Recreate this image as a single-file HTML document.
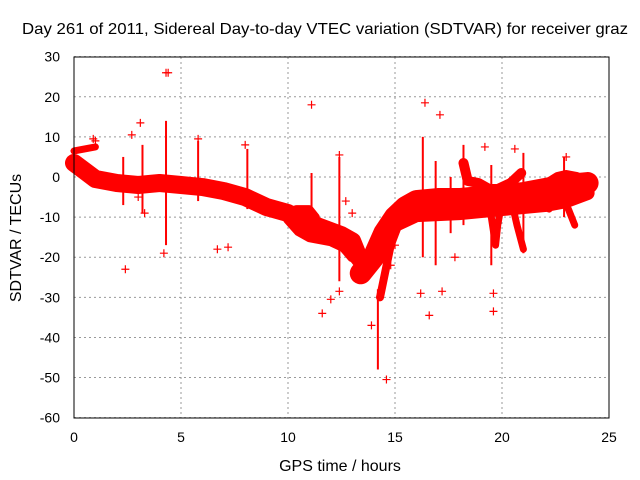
<!DOCTYPE html>
<html><head><meta charset="utf-8"><style>
body{margin:0;background:#fff;}
svg{display:block;font-family:"Liberation Sans",sans-serif;}
</style></head><body>
<svg id="chart" width="640" height="480">
<text x="325" y="34" font-size="16" textLength="606" lengthAdjust="spacingAndGlyphs" text-anchor="middle">Day 261 of 2011, Sidereal Day-to-day VTEC variation (SDTVAR) for receiver graz</text>
<text x="340" y="471" font-size="16" text-anchor="middle">GPS time / hours</text>
<text transform="translate(21,238) rotate(-90)" font-size="16" text-anchor="middle">SDTVAR / TECUs</text>
<g id="grid"></g><g id="ticks"></g><g id="bands"></g><g id="spikes"></g><g id="pts"></g>
<rect x="74" y="57" width="535" height="361" fill="none" stroke="#000" stroke-width="1"/>
</svg>
<script>
const xTicks=[0,5,10,15,20,25];
const yTicks=[30,20,10,0,-10,-20,-30,-40,-50,-60];
const bandMain=[[0,3.5],[0.5,1.5],[1,-0.5],[2,-1.5],[3,-2],[4,-1.5],[5,-2],[6,-2.5],[7,-3.5],[8,-5],[9,-7.5],[10,-9],[10.5,-10.5],[11.5,-12.5],[12.5,-14.5],[13,-16],[13.3,-20],[13.6,-22]];
const bandHook=[[0,6.5],[0.5,7],[1,7.5]];
const bandUpper=[[9.8,-9],[10.4,-8],[11,-8],[11.3,-10]];
const bandLower=[[10,-10.5],[10.5,-13.5],[11,-15],[12,-16],[12.6,-17.5],[13,-20]];
const bandRise=[[13.4,-24],[14,-20],[14.5,-14],[15,-10],[15.5,-7.5],[16,-6],[17,-5.5],[18,-5.5],[19,-5],[20,-4.5],[21,-4],[22,-3],[23,-2],[24,-1.5]];
const bandFloor=[[15,-12],[16,-9.5],[18,-9],[20,-8],[22,-7],[23,-6],[24,-4]];
const bandSecond=[[14.3,-30],[14.8,-17],[15.3,-10],[16,-8.5],[17,-7.5],[18,-8]];
const bandArc=[[18.2,3.5],[18.4,-1],[18.9,-1.5],[19.4,-3],[19.8,-3],[20.4,-1.5],[20.9,1]];
const bandLoop=[[21,-4],[22,-2],[22.6,0],[23,0.5],[23.5,0],[23.9,-2]];
const bandDips=[[[19.1,-5],[19.5,-10],[19.7,-17],[19.8,-12],[20,-6]],[[20.4,-5],[20.7,-12],[21,-18]],[[22.7,-5],[23.1,-8],[23.4,-12]],[[21.8,-4],[22.2,-8]]];
const spikeT=[2.3,3.2,4.3,5.8,8.1,11.1,12.4,14.2,16.3,16.9,17.6,18.2,19.5,21,22.9];
const spikeLo=[-7,-9,-17,-6,-8,-15,-26,-48,-20,-22,-14,-12,-22,-19,-10];
const spikeHi=[5,8,14,9,7,1,5,-28,10,4,0,8,3,6,5];
const outT=[4.4,4.3,2.4,6.7,7.2,4.2,11.1,11.6,12,12.4,14.6,16.4,17.1,16.6,17.2,19.6,19.6,16.2,17.8,19.2,20.6,23,3.1,0.9,1,2.7,5.8,8,12.4,13,12.7,15,14.8,3,3.3,13.9];
const outV=[26,26,-23,-18,-17.5,-19,18,-34,-30.5,-28.5,-50.5,18.5,15.5,-34.5,-28.5,-33.5,-29,-29,-20,7.5,7,5,13.5,9.5,9,10.5,9.5,8,5.5,-9,-6,-17,-22,-5,-9,-37];
const X=t=>74+t*21.4, Y=v=>177-v*4.011;
const NS='http://www.w3.org/2000/svg';
function mk(tag,attrs,parent){const e=document.createElementNS(NS,tag);for(const k in attrs)e.setAttribute(k,attrs[k]);document.getElementById(parent).appendChild(e);return e;}
xTicks.forEach(t=>{
 const l=mk('line',{x1:X(t),x2:X(t),y1:57,y2:418,stroke:'#999','stroke-dasharray':'2,3'},'grid');
 
 
 const tx=mk('text',{x:X(t),y:442,'font-size':14,'text-anchor':'middle'},'ticks');tx.textContent=t;
 
 
});
yTicks.forEach(v=>{
 const l=mk('line',{x1:74,x2:609,y1:Y(v),y2:Y(v),stroke:'#999','stroke-dasharray':'2,3'},'grid');
 
 
 const tx=mk('text',{x:60,y:Y(v)+5,'font-size':14,'text-anchor':'end'},'ticks');tx.textContent=v;
 
 
});
function band(pts,w,name){
 const p=mk('polyline',{points:pts.map(d=>X(d[0])+','+Y(d[1])).join(' '),fill:'none',stroke:'#f00','stroke-width':w,'stroke-linejoin':'round','stroke-linecap':'round'},'bands');
 
 
}
band(bandMain,18,'main-band');band(bandHook,7,'start-hook');band(bandUpper,8,'upper-branch');band(bandLower,10,'lower-branch');
band(bandRise,22,'rising-band');band(bandFloor,14,'floor-band');band(bandSecond,8,'second-branch');band(bandArc,10,'arc-band');band(bandLoop,10,'loop-band');
bandDips.forEach(d=>band(d,7,'dip-band'));
spikeT.forEach((t,i)=>{
 const l=mk('line',{x1:X(t),x2:X(t),y1:Y(spikeHi[i]),y2:Y(spikeLo[i]),stroke:'#f00','stroke-width':2},'spikes');
 
 
});
outT.forEach((t,i)=>{
 const x=X(t),y=Y(outV[i]);
 const p=mk('path',{d:`M${x-4},${y}H${x+4}M${x},${y-4}V${y+4}`,stroke:'#f00','stroke-width':1.2},'pts');
 
 
});
</script>
</body></html>
